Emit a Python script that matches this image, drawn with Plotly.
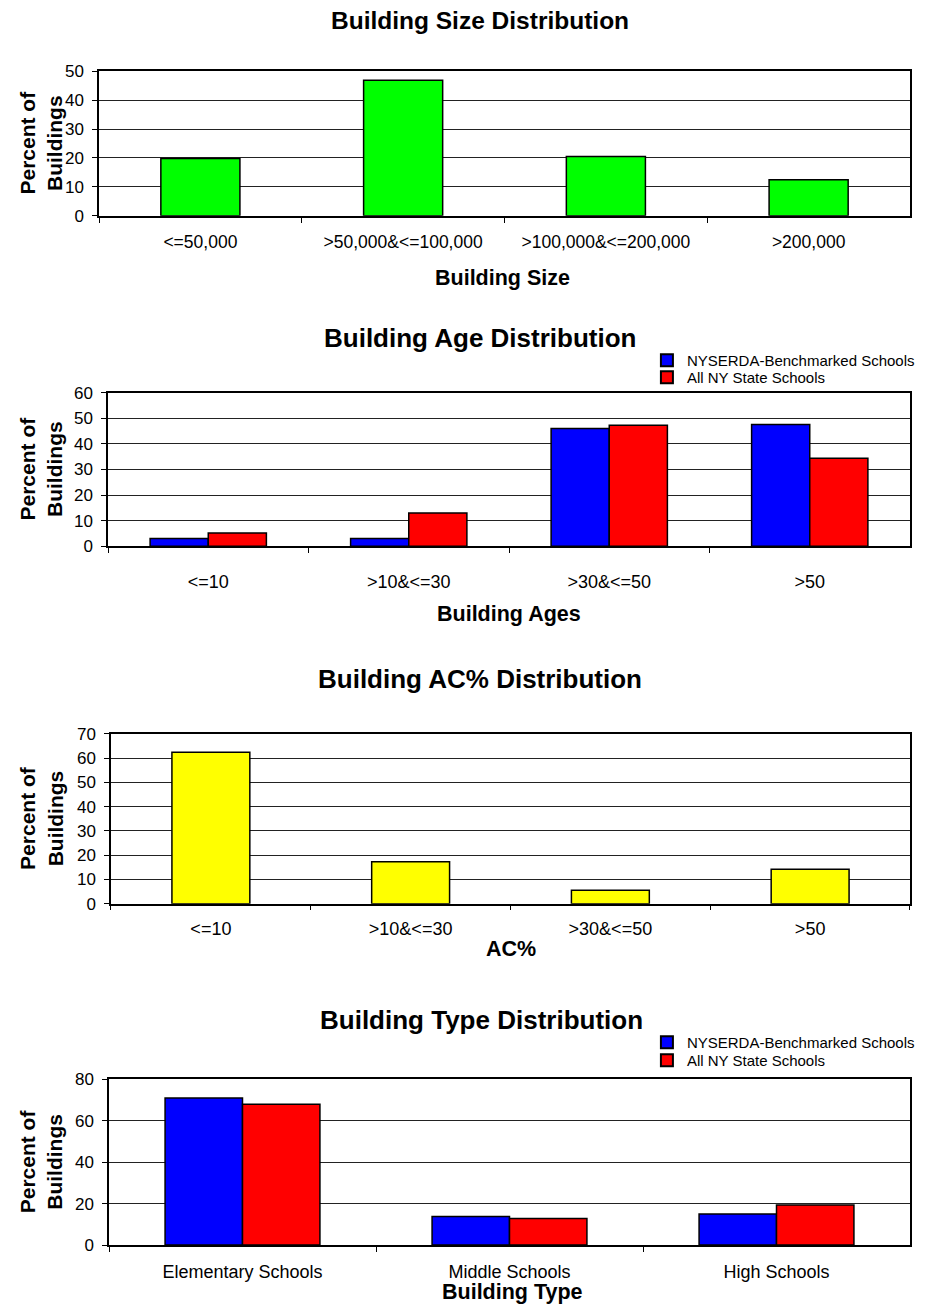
import plotly.graph_objects as go

# ---- data ----
size_cats = ["<=50,000", ">50,000&<=100,000", ">100,000&<=200,000", ">200,000"]
size_vals = [19.8, 46.8, 20.5, 12.5]

age_cats = ["<=10", ">10&<=30", ">30&<=50", ">50"]
age_nyserda = [3.0, 3.0, 46.0, 47.5]
age_allny = [5.2, 13.0, 47.2, 34.4]

ac_cats = ["<=10", ">10&<=30", ">30&<=50", ">50"]
ac_vals = [62.5, 17.3, 5.5, 14.2]

type_cats = ["Elementary Schools", "Middle Schools", "High Schools"]
type_nyserda = [71.0, 13.8, 15.0]
type_allny = [68.0, 12.8, 19.3]

series_names = ["NYSERDA-Benchmarked Schools", "All NY State Schools"]

# page placement of the figure (observed offsets and capture scale)
OFF_X, SCALE_X = 4.9, 0.99
OFF_Y, SCALE_Y = 15.8, 0.9872
W, H = 912, 1310
FONT = "Liberation Sans, Arial, sans-serif"


def px_x(x):
    return min(max(((x - OFF_X) / SCALE_X) / W, 0.0), 1.0)


def px_y(y):
    return min(max(1 - ((y - OFF_Y) / SCALE_Y) / H, 0.0), 1.0)


fig = go.Figure()
line = dict(color="black", width=1.5)
SINGLE_W = 0.39

fig.add_trace(go.Bar(x=size_cats, y=size_vals, width=SINGLE_W, marker=dict(color="#00FF00", line=line),
                     xaxis="x", yaxis="y", showlegend=False))
fig.add_trace(go.Bar(x=age_cats, y=age_nyserda, name=series_names[0], marker=dict(color="#0000FF", line=line),
                     xaxis="x2", yaxis="y2", legend="legend"))
fig.add_trace(go.Bar(x=age_cats, y=age_allny, name=series_names[1], marker=dict(color="#FF0000", line=line),
                     xaxis="x2", yaxis="y2", legend="legend2"))
fig.add_trace(go.Bar(x=ac_cats, y=ac_vals, width=SINGLE_W, marker=dict(color="#FFFF00", line=line),
                     xaxis="x3", yaxis="y3", showlegend=False))
fig.add_trace(go.Bar(x=type_cats, y=type_nyserda, name=series_names[0], marker=dict(color="#0000FF", line=line),
                     xaxis="x4", yaxis="y4", legend="legend3"))
fig.add_trace(go.Bar(x=type_cats, y=type_allny, name=series_names[1], marker=dict(color="#FF0000", line=line),
                     xaxis="x4", yaxis="y4", legend="legend4"))

panels = [
    # (x left/right, y top/bottom, ymax, dtick, x-label standoff, tick font)
    ((96, 912), (70, 215), 50, 10, 9, 17.5),
    ((105, 912), (392, 546), 60, 10, 18, 18),
    ((108, 912), (734, 904), 70, 10, 8, 18),
    ((106, 910), (1080, 1246), 80, 20, 10, 18),
]

layout = dict(
    width=W, height=H,
    margin=dict(l=0, r=0, t=0, b=0),
    paper_bgcolor="white", plot_bgcolor="white",
    font=dict(family=FONT, size=15, color="black"),
    barmode="group", bargap=0.42, bargroupgap=0,
    showlegend=True,
)

for i, ((x0, x1), (yt, yb), ymax, dt, so, tf) in enumerate(panels, start=1):
    sx = "" if i == 1 else str(i)
    layout["xaxis" + sx] = dict(
        domain=[px_x(x0), px_x(x1)], anchor="y" + sx, type="category",
        showline=True, linecolor="black", linewidth=1.5, mirror=True,
        ticks="outside", ticklen=5, tickcolor="black", tickwidth=1,
        tickson="boundaries", showgrid=False, ticklabelstandoff=so,
        tickfont=dict(size=tf, family=FONT),
    )
    layout["yaxis" + sx] = dict(
        domain=[px_y(yb), px_y(yt)], anchor="x" + sx, range=[0, ymax], dtick=dt,
        showline=True, linecolor="black", linewidth=1.5, mirror=True,
        ticks="outside", ticklen=5, tickcolor="black", tickwidth=1,
        showgrid=True, gridcolor="#222222", gridwidth=1, zeroline=False,
        ticklabelstandoff=5,
        tickfont=dict(size=17, family=FONT),
    )

fig.update_layout(**layout)

legend_common = dict(
    bgcolor="rgba(0,0,0,0)", font=dict(size=15, family=FONT),
    itemsizing="constant", tracegroupgap=0, xanchor="left", yanchor="middle",
    itemwidth=30,
)
LEG_X = 646 / W
fig.update_layout(
    legend=dict(x=LEG_X, y=px_y(360), **legend_common),
    legend2=dict(x=LEG_X, y=px_y(377), **legend_common),
    legend3=dict(x=LEG_X, y=px_y(1043), **legend_common),
    legend4=dict(x=LEG_X, y=px_y(1061), **legend_common),
)

annotations = []
titles = [
    ("Building Size Distribution", 477, 19, 24.5),
    ("Building Age Distribution", 477, 337, 26),
    ("Building AC% Distribution", 477, 679, 26),
    ("Building Type Distribution", 479, 1021, 26),
]
for t, x, y, s in titles:
    annotations.append(dict(text="<b>" + t + "</b>", x=px_x(x), y=px_y(y), xref="paper", yref="paper",
                            showarrow=False, xanchor="center", yanchor="middle",
                            font=dict(size=s, family=FONT)))
xtitles = [
    ("Building Size", 500, 277),
    ("Building Ages", 506, 614),
    ("AC%", 508, 949),
    ("Building Type", 510, 1293),
]
for t, x, y in xtitles:
    annotations.append(dict(text="<b>" + t + "</b>", x=px_x(x), y=px_y(y), xref="paper", yref="paper",
                            showarrow=False, xanchor="center", yanchor="middle",
                            font=dict(size=21.5, family=FONT)))
for (x0, x1), (yt, yb), *_ in panels:
    annotations.append(dict(text="<b>Percent of<br>Buildings</b>", x=px_x(38), y=px_y((yt + yb) / 2 - 1),
                            xref="paper", yref="paper", showarrow=False, textangle=-90,
                            xanchor="center", yanchor="middle",
                            font=dict(size=21, family=FONT)))
fig.update_layout(annotations=annotations)

fig.write_html("out.html")
